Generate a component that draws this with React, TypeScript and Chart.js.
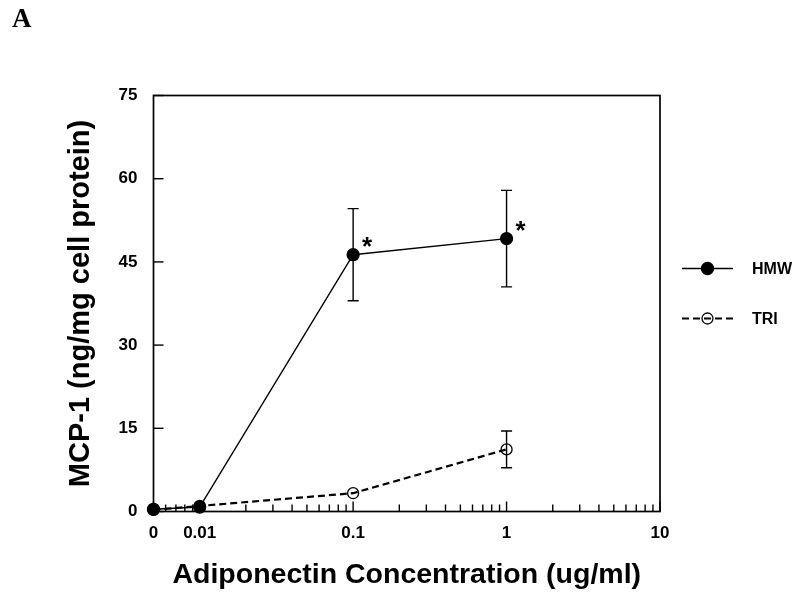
import { useEffect, useRef } from "react";
import { Chart, registerables } from "chart.js";

Chart.register(...registerables);

// ---- data ----
const concentrations = [0.005, 0.01, 0.1, 1];
const hmwValues = [0.4, 0.8, 46.3, 49.2];
const hmwErrors = [0, 0, 8.3, 8.7];
const triValues = [0.3, 1.0, 3.3, 11.2];
const triErrors = [0, 0, 0, 3.3];
const hmwSignificant = [false, false, true, true];
const triSignificant = [false, false, false, false];
const seriesLabels = ["HMW", "TRI"];
const xMajorTicks = [0.005, 0.01, 0.1, 1, 10];
const xMajorLabels = ["0", "0.01", "0.1", "1", "10"];
const yTickValues = [0, 15, 30, 45, 60, 75];
const xTitle = "Adiponectin Concentration (ug/ml)";
const yTitle = "MCP-1 (ng/mg cell protein)";
const panelLabel = "A";

const FONT = "'Liberation Sans', Arial, Helvetica, sans-serif";

function buildXTicks() {
  const all: number[] = [...xMajorTicks];
  for (const d of [0.001, 0.01, 0.1, 1]) {
    for (let k = 2; k <= 9; k++) {
      const v = +(k * d).toPrecision(3);
      if (v > xMajorTicks[0] && v < xMajorTicks[xMajorTicks.length - 1] && !all.includes(v)) all.push(v);
    }
  }
  return all.sort((a, b) => a - b);
}

const overlay = {
  id: "overlay",
  beforeDatasetsDraw(chart: any) {
    const { ctx, scales } = chart;
    const xs = scales.x;
    const ys = scales.y;
    ctx.save();
    const errs = [hmwErrors, triErrors];
    chart.data.datasets.forEach((ds: any, di: number) => {
      ctx.strokeStyle = "#000";
      ctx.lineWidth = 1.4;
      ctx.setLineDash([]);
      ds.data.forEach((p: any, i: number) => {
        const e = errs[di][i];
        if (!e) return;
        const px = xs.getPixelForValue(p.x);
        const top = ys.getPixelForValue(p.y + e);
        const bot = ys.getPixelForValue(p.y - e);
        ctx.beginPath();
        ctx.moveTo(px, top);
        ctx.lineTo(px, bot);
        ctx.moveTo(px - 5.5, top);
        ctx.lineTo(px + 5.5, top);
        ctx.moveTo(px - 5.5, bot);
        ctx.lineTo(px + 5.5, bot);
        ctx.stroke();
      });
    });
    ctx.restore();
  },
  afterDraw(chart: any) {
    const { ctx, chartArea: a, scales } = chart;
    const xs = scales.x;
    const ys = scales.y;
    ctx.save();
    ctx.strokeStyle = "#000";
    ctx.setLineDash([]);
    // inward ticks
    ctx.lineWidth = 1.4;
    xs.ticks.forEach((t: any) => {
      const px = xs.getPixelForValue(t.value);
      const len = xMajorTicks.includes(t.value) ? 10 : 7;
      ctx.beginPath();
      ctx.moveTo(px, a.bottom);
      ctx.lineTo(px, a.bottom - len);
      ctx.stroke();
    });
    ys.ticks.forEach((t: any) => {
      const py = ys.getPixelForValue(t.value);
      ctx.beginPath();
      ctx.moveTo(a.left, py);
      ctx.lineTo(a.left + 10, py);
      ctx.stroke();
    });
    // box
    ctx.lineWidth = 1.7;
    ctx.strokeRect(a.left, a.top, a.right - a.left, a.bottom - a.top);

    // asterisks
    const sig = [hmwSignificant, triSignificant];
    ctx.fillStyle = "#000";
    ctx.font = `bold 26px ${FONT}`;
    ctx.textAlign = "center";
    ctx.textBaseline = "alphabetic";
    chart.data.datasets.forEach((ds: any, di: number) => {
      ds.data.forEach((p: any, i: number) => {
        if (!sig[di][i]) return;
        const px = xs.getPixelForValue(p.x);
        const py = ys.getPixelForValue(p.y);
        ctx.fillText("*", px + 14, py - 15 + 15);
      });
    });

    // legend
    chart.data.datasets.forEach((ds: any, di: number) => {
      const y = a.top + 173 + di * 50;
      const x0 = a.right + 22;
      const x1 = a.right + 73;
      const xm = (x0 + x1) / 2;
      ctx.strokeStyle = "#000";
      ctx.lineWidth = ds.borderWidth;
      ctx.setLineDash(ds.borderDash || []);
      ctx.beginPath();
      ctx.moveTo(x0, y);
      ctx.lineTo(x1, y);
      ctx.stroke();
      ctx.setLineDash([]);
      ctx.lineWidth = ds.pointBorderWidth;
      ctx.beginPath();
      ctx.arc(xm, y, ds.pointRadius, 0, Math.PI * 2);
      ctx.fillStyle = ds.pointBackgroundColor;
      ctx.fill();
      ctx.stroke();
      ctx.fillStyle = "#000";
      ctx.font = `bold 16px ${FONT}`;
      ctx.textAlign = "left";
      ctx.textBaseline = "middle";
      ctx.fillText(ds.label, a.right + 92, y + 1);
    });

    // panel label
    ctx.fillStyle = "#000";
    ctx.font = `bold 27px 'Liberation Serif', 'Times New Roman', serif`;
    ctx.textAlign = "left";
    ctx.textBaseline = "alphabetic";
    ctx.fillText(panelLabel, 12, 27);
    ctx.restore();
  },
};

export default function App() {
  const ref = useRef<HTMLCanvasElement>(null);
  useEffect(() => {
    if (!ref.current) return;
    const xTicks = buildXTicks();
    const chart = new Chart(ref.current, {
      type: "line",
      data: {
        datasets: [
          {
            label: seriesLabels[0],
            data: concentrations.map((c, i) => ({ x: c, y: hmwValues[i] })),
            borderColor: "#000",
            borderWidth: 1.4,
            pointRadius: 6,
            pointBackgroundColor: "#000",
            pointBorderColor: "#000",
            pointBorderWidth: 1.3,
            clip: false,
            tension: 0,
          } as any,
          {
            label: seriesLabels[1],
            data: concentrations.map((c, i) => ({ x: c, y: triValues[i] })),
            borderColor: "#000",
            borderWidth: 2.2,
            borderDash: [7, 4],
            pointRadius: 5.5,
            pointBackgroundColor: "rgba(0,0,0,0)",
            pointBorderColor: "#000",
            pointBorderWidth: 1.3,
            clip: false,
            tension: 0,
          } as any,
        ],
      },
      options: {
        animation: false,
        responsive: true,
        maintainAspectRatio: false,
        layout: { padding: { left: 0, top: 95.5, right: 140, bottom: 0 } },
        plugins: { legend: { display: false }, tooltip: { enabled: false } },
        scales: {
          x: {
            type: "logarithmic",
            min: xMajorTicks[0],
            max: xMajorTicks[xMajorTicks.length - 1],
            grid: { display: false, drawTicks: false },
            border: { display: false },
            afterBuildTicks: (s: any) => {
              s.ticks = xTicks.map((v) => ({ value: v, major: xMajorTicks.includes(v) }));
            },
            afterFit: (s: any) => {
              s.height = 83.5;
            },
            ticks: {
              autoSkip: false,
              maxRotation: 0,
              padding: 12,
              color: "#000",
              font: { family: FONT, size: 17, weight: "bold" },
              callback: (v: any) => {
                const idx = xMajorTicks.indexOf(Number(v));
                return idx >= 0 ? xMajorLabels[idx] : "";
              },
            },
            title: {
              display: true,
              text: xTitle,
              color: "#000",
              font: { family: FONT, size: 28.5, weight: "bold" },
              padding: { top: 0, bottom: 3 },
            },
          } as any,
          y: {
            type: "linear",
            min: yTickValues[0],
            max: yTickValues[yTickValues.length - 1],
            grid: { display: false, drawTicks: false },
            border: { display: false },
            afterBuildTicks: (s: any) => {
              s.ticks = yTickValues.map((v) => ({ value: v }));
            },
            afterFit: (s: any) => {
              s.width = 153.5;
            },
            ticks: {
              padding: 16,
              color: "#000",
              font: { family: FONT, size: 17, weight: "bold" },
            },
            title: {
              display: true,
              text: yTitle,
              color: "#000",
              font: { family: FONT, size: 29, weight: "bold" },
              padding: { top: 64, bottom: 0 },
            },
          } as any,
        },
      },
      plugins: [overlay],
    });
    return () => chart.destroy();
  }, []);
  return (
    <div style={{ position: "fixed", left: 0, top: 0, width: 800, height: 595, background: "#fff" }}>
      <canvas ref={ref} />
    </div>
  );
}
